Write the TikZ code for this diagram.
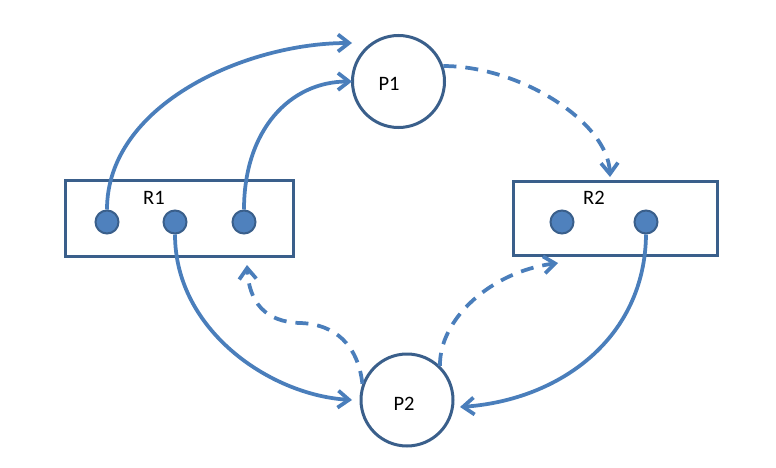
\documentclass[tikz,border=0pt]{standalone}
\usepackage{fontspec}
\setmainfont{Carlito}
\usetikzlibrary{arrows.meta}
\definecolor{arrowblue}{HTML}{4A7EBB}
\definecolor{edgeblue}{HTML}{3A5F8B}
\definecolor{dotblue}{HTML}{4F81BD}
\tikzset{
  box/.style={draw=edgeblue, line width=3pt, fill=white, inner sep=0pt},
  proc/.style={draw=edgeblue, line width=3pt, circle, fill=white, minimum size=92pt, inner sep=0pt},
  dot/.style={draw=edgeblue, line width=2pt, circle, fill=dotblue, minimum size=23pt, inner sep=0pt},
  lbl/.style={font=\fontsize{20.5}{24}\selectfont, inner sep=0pt},
  conn/.style={draw=arrowblue, line width=3.75pt, -{Straight Barb[length=11pt,width=17pt,line width=3.75pt]}},
  dconn/.style={conn, dash pattern=on 13pt off 9pt},
}
\begin{document}
\begin{tikzpicture}[x=1pt,y=-1pt]
\useasboundingbox (0,0) rectangle (776,468);
% resources
\node[box, minimum width=228pt, minimum height=76pt] (r1) at (179,218) {};
\node[box, minimum width=204pt, minimum height=74pt] (r2) at (615,218) {};
\node[lbl] (r1t) at (154,198) {R1};
\node[lbl] (r2t) at (594,198) {R2};
\node[dot] (d1) at (107,222) {};
\node[dot] (d2) at (175,222) {};
\node[dot] (d3) at (244,222) {};
\node[dot] (d4) at (562,222) {};
\node[dot] (d5) at (646,222) {};
% processes
\node[proc] (p1) at (398.5,81.5) {};
\node[proc] (p2) at (407,400) {};
\node[lbl] (p1t) at (389,84) {P1};
\node[lbl] (p2t) at (404,404) {P2};
% free arrow ends
\coordinate (a1) at (352,43);
\coordinate (a2) at (352,81.5);
\coordinate (a3) at (610,177);
\coordinate (a4) at (352,400);
\coordinate (m5) at (300,323);
\coordinate (a5) at (247,265);
\coordinate (a6) at (558,263);
\coordinate (a7) at (460,407);
% connectors
\draw[conn] (d1.north) .. controls (107,105) and (245,43) .. (a1);
\draw[conn] (d3.north) .. controls (244,130) and (290,81.5) .. (a2);
\draw[dconn] (p1.19) .. controls (520,66) and (608,122) .. (a3);
\draw[conn] (d2.south) .. controls (175,330) and (270,395) .. (a4);
\draw[dconn] (p2.160) .. controls (358,345) and (335,324) .. (m5) .. controls (265,322) and (249,302) .. (a5);
\draw[dconn] (p2.46) .. controls (439,320) and (490,272) .. (a6);
\draw[conn] (d5.south) .. controls (645,338) and (560,400) .. (a7);
\end{tikzpicture}
\end{document}
